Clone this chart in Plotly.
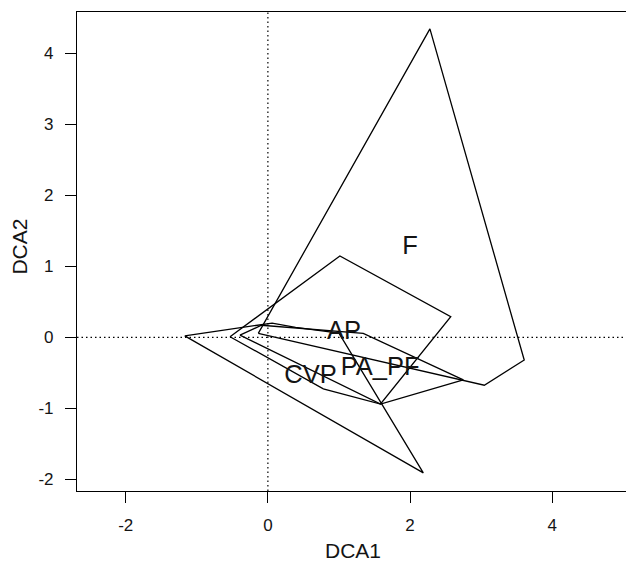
import plotly.graph_objects as go

# Convex hulls of the four groups (DCA1, DCA2 vertices)
F_x = [-0.135, 2.28, 3.607, 3.045]
F_y = [0.056, 4.345, -0.32, -0.675]

AP_x = [-0.533, 1.013, 2.573, 1.585, 0.78]
AP_y = [0.008, 1.145, 0.289, -0.94, -0.725]

CVP_x = [-1.17, 0.06, 0.39, 1.0, 2.187]
CVP_y = [0.02, 0.20, 0.14, 0.06, -1.91]

PAPF_x = [-0.393, -0.09, 1.342, 2.75, 1.585]
PAPF_y = [0.03, 0.17, 0.056, -0.60, -0.94]

groups = ["F", "AP", "CVP", "PA_PF"]
hull_x = [F_x, AP_x, CVP_x, PAPF_x]
hull_y = [F_y, AP_y, CVP_y, PAPF_y]

# label (centroid) positions
label_x = [2.0, 1.07, 0.60, 1.58]
label_y = [1.27, 0.07, -0.56, -0.44]

x_ticks = [-2, 0, 2, 4]
x_tick_text = ["-2", "0", "2", "4"]
y_ticks = [-2, -1, 0, 1, 2, 3, 4]
y_tick_text = ["-2", "-1", "0", "1", "2", "3", "4"]

FONT = "Liberation Sans, Arial, Helvetica, sans-serif"
INK = "#141414"

fig = go.Figure()

# dotted reference lines at 0
fig.add_hline(y=0, line=dict(color="black", width=1.2, dash="1.5px,3px"), layer="below")
fig.add_vline(x=0, line=dict(color="black", width=1.2, dash="1.5px,3px"), layer="below")

for name, xs, ys in zip(groups, hull_x, hull_y):
    fig.add_trace(go.Scatter(
        x=xs + [xs[0]], y=ys + [ys[0]], mode="lines", name=name,
        line=dict(color="black", width=1.3), hoverinfo="skip", showlegend=False))

fig.add_trace(go.Scatter(
    x=label_x, y=label_y, text=groups, mode="text",
    textposition="middle center",
    textfont=dict(family=FONT, size=25.5, color=INK),
    showlegend=False, hoverinfo="skip"))

fig.update_layout(
    width=626, height=565,
    margin=dict(l=77, r=0, t=12, b=74, autoexpand=False),
    paper_bgcolor="white", plot_bgcolor="white",
    font=dict(family=FONT, color=INK),
    xaxis=dict(range=[-2.686, 5.039], tickvals=x_ticks, ticktext=x_tick_text,
               ticks="outside", ticklen=11, automargin=False,
               tickcolor="black", showline=True, linecolor="black", linewidth=1.2,
               mirror=True, showgrid=False, zeroline=False,
               tickfont=dict(size=17, family=FONT, color=INK), ticklabelstandoff=7),
    yaxis=dict(range=[-2.165, 4.582], tickvals=y_ticks, ticktext=y_tick_text,
               ticks="outside", ticklen=11, automargin=False,
               tickcolor="black", showline=True, linecolor="black", linewidth=1.2,
               mirror=False, showgrid=False, zeroline=False,
               tickfont=dict(size=17, family=FONT, color=INK), ticklabelstandoff=8),
    annotations=[
        dict(text="DCA1", xref="paper", yref="paper", x=0.503, y=-0.125,
             xanchor="center", yanchor="middle", showarrow=False,
             font=dict(size=21, family=FONT, color=INK)),
        dict(text="DCA2", xref="paper", yref="paper", x=-0.104, y=0.51,
             xanchor="center", yanchor="middle", showarrow=False, textangle=-90,
             font=dict(size=21, family=FONT, color=INK)),
    ],
)

fig.write_html(
    "out.html",
    config={"displayModeBar": False},
    post_script="document.body.style.margin='0';document.body.style.overflow='hidden';",
)
